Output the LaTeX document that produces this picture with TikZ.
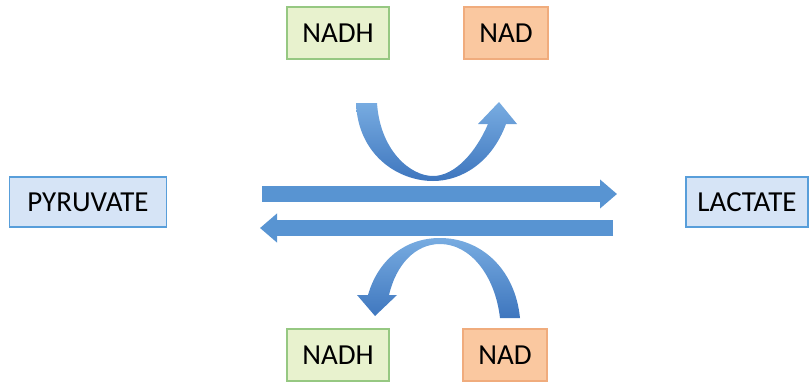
\documentclass[tikz,border=0pt]{standalone}
\usepackage{fontspec}
\setmainfont{Carlito}
\usetikzlibrary{arrows.meta}

\definecolor{arrowblue}{RGB}{88,148,210}
\definecolor{arrowdark}{RGB}{62,118,190}
\definecolor{arrowlight}{RGB}{120,172,225}
\definecolor{pyrfill}{RGB}{214,228,246}
\definecolor{pyrline}{RGB}{88,158,218}
\definecolor{nadhfill}{RGB}{232,242,206}
\definecolor{nadhline}{RGB}{150,200,130}
\definecolor{nadfill}{RGB}{250,200,160}
\definecolor{nadline}{RGB}{240,172,125}

\begin{document}
\begin{tikzpicture}[
    x = 1pt, y = -1pt,
    every node/.style = {draw, rectangle, line width = 1.3pt, minimum height = 52pt,
      inner sep = 0pt, font = \fontsize{29}{32}\selectfont},
    metabolite/.style = {fill = pyrfill, draw = pyrline, minimum height = 50pt},
    reduced/.style = {fill = nadhfill, draw = nadhline, minimum width = 102pt},
    oxidised/.style = {fill = nadfill, draw = nadline, minimum width = 84pt},
    flow/.style = {line width = 16pt, draw = arrowblue,
      -{Triangle[width = 28pt, length = 17pt]}},
    curvearrow/.style = {top color = arrowlight, bottom color = arrowdark, draw = none}
  ]
  \useasboundingbox (0,0) rectangle (810,383);

  % Metabolites
  \node[metabolite, minimum width = 157pt] (pyruvate) at (88,202) {PYRUVATE};
  \node[metabolite, minimum width = 122pt] (lactate)  at (747,202) {LACTATE};

  % Cofactors
  \node[reduced]  (nadhTop) at (338,33)  {NADH};
  \node[oxidised] (nadTop)  at (506,33)  {NAD};
  \node[reduced]  (nadhBot) at (338,355) {NADH};
  \node[oxidised] (nadBot)  at (505,355) {NAD};

  % Reaction arrows
  \coordinate (fwdStart) at (262,194);
  \coordinate (fwdEnd)   at (617,194);
  \coordinate (revStart) at (613,228);
  \coordinate (revEnd)   at (260,228);
  \draw[flow] (fwdStart) -- (fwdEnd);
  \draw[flow] (revStart) -- (revEnd);

  % NADH -> NAD (forward)
  \path[curvearrow] (356,103) -- (377,103)
    .. controls (380,150) and (410,176) .. (433,176)
    .. controls (455,176) and (476,152) .. (488,124)
    -- (478,124) -- (499,102) -- (517,124) -- (506,124)
    .. controls (492,162) and (462,181) .. (433,181)
    .. controls (398,181) and (358,155) .. (356,103) -- cycle;

  % NAD -> NADH (reverse)
  \path[curvearrow] (520,318) -- (500,318)
    .. controls (495,275) and (470,244) .. (440,244)
    .. controls (415,244) and (396,265) .. (389,295)
    -- (397,295) -- (375,316) -- (357,295) -- (368,295)
    .. controls (378,260) and (405,238) .. (440,238)
    .. controls (480,238) and (515,268) .. (520,318) -- cycle;
\end{tikzpicture}
\end{document}
